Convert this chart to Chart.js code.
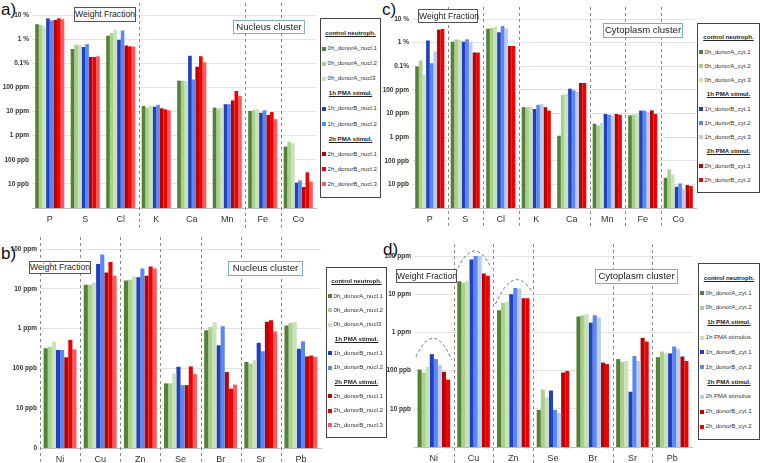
<!DOCTYPE html>
<html>
<head>
<meta charset="utf-8">
<script src="https://cdn.jsdelivr.net/npm/chart.js@4/dist/chart.umd.min.js"></script>
<style>
  body { margin: 0; width: 760px; height: 463px; background: #fff; position: relative; overflow: hidden; font-family: "Liberation Sans", Arial, sans-serif; }
  canvas { position: absolute; }
  .tag { position: absolute; font-size: 17px; color: #111; }
  .box { position: absolute; border: 1px solid #555; background: #fff; font-size: 8.6px; color: #222; text-align: center; box-sizing: border-box; white-space: nowrap; }
  .clu { border: 1.5px solid #7fa9d8; font-size: 9.6px; }
  .leg { position: absolute; border: 1px solid #444; background: #fff; box-sizing: border-box; display: flex; flex-direction: column; justify-content: space-evenly; padding: 2px 1px; font-size: 6.1px; color: #333; white-space: nowrap; overflow: hidden; }
  .leg .h { font-weight: bold; text-decoration: underline; text-align: center; color: #222; }
  .leg .i span { display: inline-block; width: 4px; height: 4px; margin-right: 1.5px; vertical-align: middle; }
</style>
</head>
<body>
<div class="tag" style="left:1px;top:0px">a)</div>
<div class="tag" style="left:382px;top:0px">c)</div>
<div class="tag" style="left:1px;top:244px">b)</div>
<div class="tag" style="left:383px;top:240px">d)</div>

<canvas id="chartA" width="320" height="228" style="left:0;top:0"></canvas>
<canvas id="chartC" width="318" height="228" style="left:380px;top:0"></canvas>
<canvas id="chartB" width="326" height="233" style="left:0;top:230px"></canvas>
<canvas id="chartD" width="318" height="233" style="left:380px;top:230px"></canvas>

<div class="box" style="left:74px;top:7px;width:62px;height:15px;line-height:13px">Weight Fraction</div>
<div class="box clu" style="left:233px;top:20px;width:72px;height:14px;line-height:11px">Nucleus cluster</div>
<div class="box" style="left:418px;top:9px;width:60px;height:14px;line-height:12px">Weight Fraction</div>
<div class="box clu" style="left:603px;top:23px;width:80px;height:15px;line-height:12px">Cytoplasm cluster</div>
<div class="box" style="left:29px;top:261px;width:62px;height:13px;line-height:11px">Weight Fraction</div>
<div class="box clu" style="left:228px;top:261px;width:75px;height:15px;line-height:12px">Nucleus cluster</div>
<div class="box" style="left:396px;top:269px;width:61px;height:14px;line-height:12px">Weight Fraction</div>
<div class="box clu" style="left:595px;top:269px;width:83px;height:15px;line-height:12px">Cytoplasm cluster</div>

<div id="legA" class="leg" style="left:320px;top:18px;width:61px;height:180px"></div>
<div id="legC" class="leg" style="left:697px;top:23px;width:63px;height:170px"></div>
<div id="legB" class="leg" style="left:326px;top:267px;width:61px;height:171px"></div>
<div id="legD" class="leg" style="left:698px;top:263px;width:62px;height:177px"></div>

<script>
// values in ppm (weight fraction)
const catsAC = ["P", "S", "Cl", "K", "Ca", "Mn", "Fe", "Co"];
const catsBD = ["Ni", "Cu", "Zn", "Se", "Br", "Sr", "Pb"];

// a) nucleus cluster, major elements
const labelsA = ["0h_donorA_nucl.1", "0h_donorA_nucl.2", "0h_donorA_nucl3", "1h_donorB_nucl.1", "1h_donorB_nucl.2", "2h_donorB_nucl.1", "2h_donorB_nucl.2", "2h_donorB_nucl.3"];
const seriesA = [
  [41700, 3890, 13800, 17, 190, 14.5, 10.5, 0.35],
  [38900, 5890, 17800, 14.5, 190, 13.2, 11.2, 0.56],
  [33100, 5890, 24000, 17, 182, 14.5, 12.3, 0.49],
  [72400, 4680, 9330, 15.8, 2040, 20, 8.9, 0.0112],
  [58900, 6170, 22900, 19, 214, 20, 11.2, 0.0138],
  [61700, 1820, 5500, 13.5, 708, 28.8, 7.2, 0.0074],
  [72400, 1820, 5000, 12.3, 1950, 70.8, 9.5, 0.030],
  [66100, 1950, 5000, 11.2, 1100, 43.7, 4.8, 0.0126],
];

// c) cytoplasm cluster, major elements
const labelsC = ["0h_donorA_cyt.1", "0h_donorA_cyt.2", "0h_donorA_cyt.3", "1h_donorB_cyt.1", "1h_donorB_cyt.2", "1h_donorB_cyt.3", "2h_donorB_cyt.1", "2h_donorB_cyt.2"];
const seriesC = [
  [980, 11000, 38900, 18.6, 1.15, 3.7, 8.3, 0.019],
  [1740, 13800, 41700, 18.6, 61.7, 3.1, 8.9, 0.043],
  [437, 12900, 47900, 18.6, 69, 4.0, 9.8, 0.026],
  [12300, 11000, 27500, 15.5, 112, 9.5, 13.2, 0.0079],
  [1350, 13800, 50100, 23.4, 95, 8.9, 13.2, 0.011],
  [4170, 10000, 40700, 25.7, 85, 8.3, 11.2, 0.0065],
  [35500, 3800, 7240, 18.6, 195, 9.5, 13.5, 0.0093],
  [38000, 3800, 7240, 13.2, 195, 8.9, 9.5, 0.0085],
];

// b) nucleus cluster, trace elements
const labelsB = labelsA;
const seriesB = [
  [0.32, 12.6, 16.2, 0.042, 0.91, 0.145, 1.2],
  [0.35, 12.6, 17, 0.042, 1.1, 0.132, 1.38],
  [0.47, 14.5, 20.4, 0.074, 1.45, 0.162, 1.48],
  [0.29, 41.7, 19.5, 0.11, 0.38, 0.44, 0.31],
  [0.29, 72.4, 32.4, 0.038, 1.15, 0.27, 0.48],
  [0.19, 25.7, 21.4, 0.038, 0.081, 1.48, 0.20],
  [0.52, 46.8, 36.3, 0.112, 0.031, 1.62, 0.21],
  [0.30, 21.4, 32.4, 0.072, 0.039, 0.85, 0.195],
];

// d) cytoplasm cluster, trace elements
const labelsD = ["0h_donorA_cyt.1", "0h_donorA_cyt.2", "1h PMA stimulus", "1h_donorB_cyt.1", "1h_donorB_cyt.2", "2h PMA stimulus", "2h_donorB_cyt.1", "2h_donorB_cyt.2"];
const seriesD = [
  [0.107, 21.9, 3.8, 0.0093, 2.6, 0.20, 0.224],
  [0.089, 20, 6.0, 0.032, 2.8, 0.17, 0.316],
  [0.126, 22.4, 6.3, 0.020, 3.0, 0.178, 0.282],
  [0.27, 81, 10, 0.030, 1.8, 0.028, 0.282],
  [0.20, 100, 14.5, 0.0093, 2.8, 0.24, 0.427],
  [0.14, 100, 14.1, 0.0078, 2.45, 0.178, 0.372],
  [0.093, 34.7, 7.8, 0.089, 0.162, 0.72, 0.234],
  [0.058, 30.2, 7.8, 0.098, 0.148, 0.575, 0.178],
];

// legend groups: header, number of entries
const groupsA = [["control neutroph.", 3], ["1h PMA stimul.", 2], ["2h PMA stimul.", 3]];
const groupsC = [["control neutroph.", 3], ["1h PMA stimul.", 3], ["2h PMA stimul.", 2]];
const groupsD = [["control neutroph.", 2], ["1h PMA stimul.", 3], ["2h PMA stimul.", 3]];

// y tick labels (value in ppm -> text)
const ticksMajor = [[100000, "10 %"], [10000, "1 %"], [1000, "0.1%"], [100, "100 ppm"], [10, "10 ppm"], [1, "1 ppm"], [0.1, "100 ppb"], [0.01, "10 ppb"], [0.001, ""]];
const ticksTraceB = [[100, "100 ppm"], [10, "10 ppm"], [1, "1 ppm"], [0.1, "100 ppb"], [0.01, "10 ppb"], [0.001, "0"]];
const ticksTraceD = [[100, "100 ppm"], [10, "10 ppm"], [1, "1 ppm"], [0.1, "100 ppb"], [0.01, "10 ppb"], [0.001, ""]];

const G = ["#548235", "#a9d18e", "#c9e2b8"];
const B = ["#1f3fc4", "#5b87f2", "#b8cdf0"];
const R = ["#c00000", "#f00000", "#ff5a5a"];
const colorsA = [G[0], G[1], G[2], B[0], B[1], R[0], R[1], R[2]];
const colorsC = [G[0], G[1], G[2], B[0], B[1], B[2], R[0], R[1]];

const sepPlugin = {
  id: "seps",
  afterDraw(chart, args, opts) {
    const ctx = chart.ctx, x = chart.scales.x, a = chart.chartArea;
    const w = (a.right - a.left) / chart.data.labels.length;
    ctx.save();
    ctx.setLineDash([3, 3]);
    ctx.lineWidth = 1;
    ctx.strokeStyle = "#8c8c8c";
    (opts.at || []).forEach(i => {
      const px = Math.round(a.left + i * w) + 0.5;
      ctx.beginPath();
      ctx.moveTo(px, Math.max(0, a.top - 12));
      ctx.lineTo(px, Math.min(chart.height, a.bottom + 20));
      ctx.stroke();
    });
    // dashed arcs over groups
    const y = chart.scales.y;
    (opts.arcs || []).forEach(arc => {
      const cx = x.getPixelForValue(arc[0]);
      const x0 = cx - w * 0.45, x2 = cx + w * 0.45;
      const y0 = y.getPixelForValue(arc[1]), y2 = y.getPixelForValue(arc[3]);
      const yp = y.getPixelForValue(arc[2]);
      const cy = 2 * yp - (y0 + y2) / 2;
      ctx.strokeStyle = "#4a6fa5";
      ctx.setLineDash([3, 2.5]);
      ctx.beginPath();
      ctx.moveTo(x0, y0);
      ctx.quadraticCurveTo(cx, cy, x2, y2);
      ctx.stroke();
    });
    ctx.restore();
  },
};

function makeChart(id, cats, labels, series, colors, ticks, area, seps, arcs) {
  const cv = document.getElementById(id);
  const tickMap = new Map(ticks.map(t => [t[0], t[1]]));
  return new Chart(cv.getContext("2d"), {
    type: "bar",
    data: {
      labels: cats,
      datasets: series.map((d, i) => ({
        label: labels[i],
        data: d,
        backgroundColor: colors[i],
        borderWidth: 0,
        categoryPercentage: 0.82,
        barPercentage: 1.0,
      })),
    },
    options: {
      responsive: false,
      animation: false,
      layout: {
        padding: { left: 0, top: area.top, right: cv.width - area.right, bottom: 0 },
      },
      plugins: {
        legend: { display: false },
        tooltip: { enabled: false },
        seps: { at: seps, arcs: arcs },
      },
      scales: {
        x: {
          grid: { display: false, drawTicks: false },
          border: { color: "#bfbfbf" },
          ticks: { color: "#333", font: { family: "Liberation Sans", size: 9 }, padding: 6 },
          afterFit: s => { s.height = cv.height - area.bottom; },
        },
        y: {
          type: "logarithmic",
          min: ticks[ticks.length - 1][0],
          max: ticks[0][0],
          afterFit: s => { s.width = area.left; },
          afterBuildTicks: s => { s.ticks = ticks.map(t => ({ value: t[0] })); },
          grid: { color: "#e3e3e3", drawTicks: false },
          border: { display: false },
          ticks: {
            padding: 3,
            color: "#333",
            font: { family: "Liberation Sans", size: 6.5, weight: "bold" },
            callback: v => tickMap.get(v) ?? "",
          },
        },
      },
    },
    plugins: [sepPlugin],
  });
}

function makeLegend(id, labels, colors, groups) {
  const el = document.getElementById(id);
  let k = 0, html = "";
  groups.forEach(g => {
    html += '<div class="h">' + g[0] + "</div>";
    for (let j = 0; j < g[1]; j++, k++) {
      html += '<div class="i"><span style="background:' + colors[k] + '"></span>' + labels[k] + "</div>";
    }
  });
  el.innerHTML = html;
}

makeChart("chartA", catsAC, labelsA, seriesA, colorsA, ticksMajor, { left: 32, right: 316, top: 15, bottom: 208 }, [3, 6, 7]);
makeChart("chartC", catsAC, labelsC, seriesC, colorsC, ticksMajor, { left: 32, right: 316, top: 19, bottom: 208 }, [1, 2, 3, 5, 6, 7]);
makeChart("chartB", catsBD, labelsB, seriesB, colorsA, ticksTraceB, { left: 40, right: 321, top: 19, bottom: 218 }, [0, 1, 2, 3, 4, 5, 6]);
makeChart("chartD", catsBD, labelsD, seriesD, colorsC, ticksTraceD, { left: 34, right: 312, top: 26, bottom: 217 }, [1, 2, 3, 5, 6],
  [["Ni", 0.23, 0.7, 0.19], ["Cu", 36, 135, 47], ["Zn", 5.5, 23, 12.6]]);

makeLegend("legA", labelsA, colorsA, groupsA);
makeLegend("legC", labelsC, colorsC, groupsC);
makeLegend("legB", labelsB, colorsA, groupsA);
makeLegend("legD", labelsD, colorsC, groupsD);
</script>
</body>
</html>
